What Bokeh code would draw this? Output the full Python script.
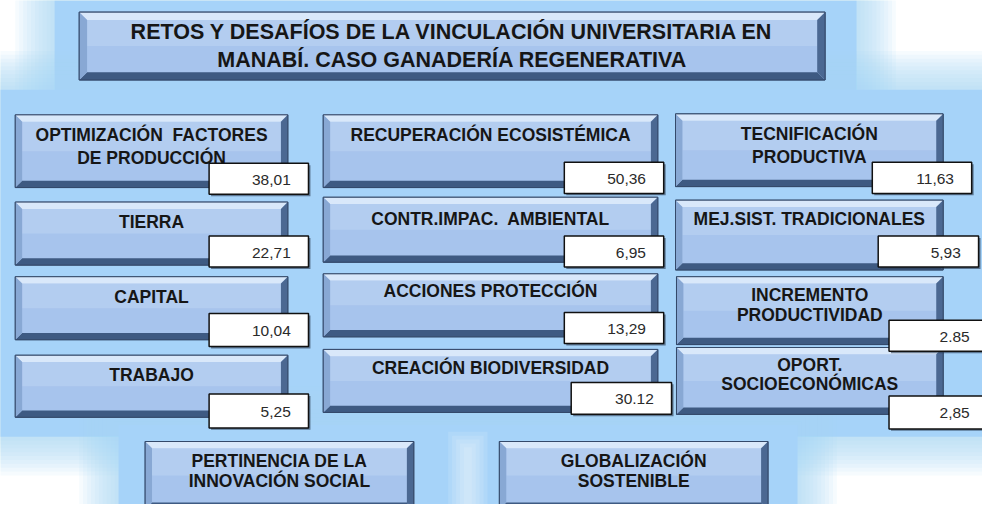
from bokeh.plotting import figure
from bokeh.models import Range1d, ColumnDataSource
from bokeh.core.properties import value
from bokeh.embed import file_html
from bokeh.resources import INLINE

# ---------------- data ----------------
title_lines = ["RETOS Y DESAFÍOS DE LA VINCULACIÓN UNIVERSITARIA EN",
               "MANABÍ. CASO GANADERÍA REGENERATIVA"]

labels = [
    ["OPTIMIZACIÓN\u00a0 FACTORES", "DE PRODUCCIÓN"],
    ["TIERRA"],
    ["CAPITAL"],
    ["TRABAJO"],
    ["RECUPERACIÓN ECOSISTÉMICA"],
    ["CONTR.IMPAC.\u00a0 AMBIENTAL"],
    ["ACCIONES PROTECCIÓN"],
    ["CREACIÓN BIODIVERSIDAD"],
    ["TECNIFICACIÓN", "PRODUCTIVA"],
    ["MEJ.SIST. TRADICIONALES"],
    ["INCREMENTO", "PRODUCTIVIDAD"],
    ["OPORT.", "SOCIOECONÓMICAS"],
]
values = [38.01, 22.71, 10.04, 5.25, 50.36, 6.95, 13.29, 30.12, 11.63, 5.93, 2.85, 2.85]
decimal_sep = [",", ",", ",", ",", ",", ",", ",", ".", ",", ",", ".", ","]

bottom_labels = [["PERTINENCIA DE LA", "INNOVACIÓN SOCIAL"],
                 ["GLOBALIZACIÓN", "SOSTENIBLE"]]

# ---------------- layout (pixel space of the 998x520 drawing) ----------------
title_box = (80, 12, 838, 82)
title_y = [33, 61]

boxes = [
    (15, 118, 292, 193), (15, 208, 292, 273), (15, 285, 292, 350), (15, 366, 292, 430),
    (328, 118, 668, 193), (328, 203, 668, 270), (328, 282, 668, 347), (328, 360, 668, 425),
    (686, 117, 958, 192), (686, 206, 958, 278), (687, 285, 958, 355), (687, 358, 958, 427),
]
label_y = [[139, 163], [229], [306], [386],
           [139], [225], [300], [379],
           [138, 161], [225], [304, 324], [376, 396]]
vboxes = [
    (212, 168, 313, 200), (212, 243, 313, 275), (212, 323, 313, 357), (212, 406, 313, 441),
    (573, 167, 674, 199), (573, 243, 674, 275), (573, 322, 674, 354), (580, 394, 682, 427),
    (886, 167, 987, 199), (892, 243, 994, 275), (903, 330, 1003, 362), (903, 408, 1003, 442),
]
bottom_boxes = [(147, 455, 420, 525), (507, 455, 780, 525)]
bottom_y = [[475, 496], [475, 496]]

glow_regions = [(55, 0, 870, 100), (-20, 92, 1010, 450), (120, 438, 810, 530)]

W, H = 982, 504
p = figure(width=W, height=H, x_range=Range1d(0, 998), y_range=Range1d(520, 0),
           output_backend="svg", toolbar_location=None, min_border=0,
           background_fill_color="white", border_fill_color="white",
           outline_line_color=None)
p.axis.visible = False
p.grid.visible = False

# ---------------- glowing background ----------------
GLOW = "#a6d3f9"
for (x0, y0, x1, y1) in glow_regions:
    for k in range(10, 0, -1):
        e = k * 4
        p.quad(left=x0 - e, right=x1 + e, top=y0 - e, bottom=y1 + e,
               fill_color=GLOW, fill_alpha=0.10, line_color=None)
    p.quad(left=x0, right=x1, top=y0, bottom=y1, fill_color=GLOW, line_color=None)

# soft light streak between the bottom boxes
for k in range(6):
    e = k * 4
    p.quad(left=455 + e, right=495 - e, top=445 + e, bottom=530,
           fill_color="white", fill_alpha=0.12, line_color=None)


def bevel_box(b, bw=7):
    x0, y0, x1, y1 = b
    p.quad(left=x0, right=x1, top=y0, bottom=y1, fill_color="#a7c4ed",
           line_color="#34496a", line_width=1)
    p.quad(left=x0 + bw, right=x1 - bw, top=y0 + bw, bottom=(y0 + y1) / 2,
           fill_color="#c4daf5", fill_alpha=0.45, line_color=None)
    xs = [
        [x0, x1, x1 - bw, x0 + bw],
        [x0, x1, x1 - bw, x0 + bw],
        [x0, x0 + bw, x0 + bw, x0],
        [x1, x1 - bw, x1 - bw, x1],
    ]
    ys = [
        [y0, y0, y0 + bw, y0 + bw],
        [y1, y1, y1 - bw, y1 - bw],
        [y0, y0 + bw, y1 - bw, y1],
        [y0, y0 + bw, y1 - bw, y1],
    ]
    cols = ["#d9e8fa", "#3e5a82", "#88a8d4", "#4b6892"]
    p.patches(xs=xs, ys=ys, fill_color=cols, line_color=None)
    p.quad(left=x0, right=x1, top=y0, bottom=y1, fill_color=None,
           line_color="#34496a", line_width=1)


def lines_text(xc, ys, lines, size, color="#161616"):
    src = ColumnDataSource(dict(x=[xc] * len(lines), y=ys, t=lines))
    p.text(x="x", y="y", text="t", source=src, text_align="center",
           text_baseline="middle", text_font=value("Liberation Sans"),
           text_font_style="bold", text_font_size=size, text_color=color)


bevel_box(title_box, bw=8)
lines_text((title_box[0] + title_box[2]) / 2, title_y, title_lines, "21.5px")

for b, lab, ly in zip(boxes, labels, label_y):
    bevel_box(b)
    lines_text((b[0] + b[2]) / 2, ly, lab, "17.5px")

for vb, v, sep in zip(vboxes, values, decimal_sep):
    x0, y0, x1, y1 = vb
    p.quad(left=x0 + 2, right=x1 + 2, top=y0 + 2, bottom=y1 + 2,
           fill_color="#2a3a50", fill_alpha=0.6, line_color=None)
    p.quad(left=x0, right=x1, top=y0, bottom=y1, fill_color="white",
           line_color="#111111", line_width=1.5)
    txt = f"{v:.2f}".replace(".", sep)
    p.text(x=[x1 - 18], y=[(y0 + y1) / 2 + 1], text=[txt], text_align="right",
           text_baseline="middle", text_font=value("Liberation Sans"),
           text_font_size="15.5px", text_color="#2a2a2a")

for b, lab, ly in zip(bottom_boxes, bottom_labels, bottom_y):
    bevel_box(b)
    lines_text((b[0] + b[2]) / 2, ly, lab, "17.5px")

open("out.html", "w").write(file_html(p, INLINE))
